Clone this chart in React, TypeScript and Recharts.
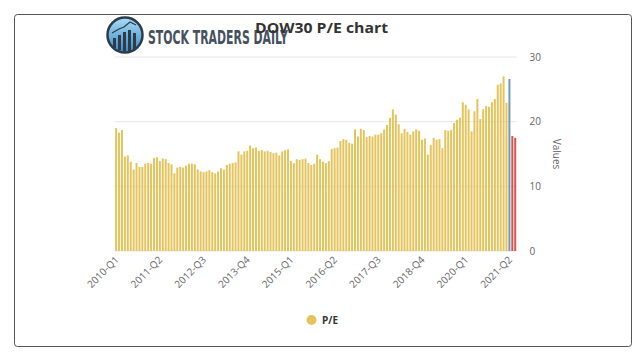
import { BarChart, Bar, Cell, XAxis, YAxis, CartesianGrid } from "recharts";

// monthly DOW30 P/E readings, Jan..Dec per year
const pe2010 = [19.0, 18.3, 18.7, 14.6, 14.8, 13.8, 12.6, 13.6, 13.0, 13.0, 13.5, 13.6];
const pe2011 = [13.5, 14.4, 14.5, 13.9, 14.3, 14.2, 13.6, 13.4, 12.0, 12.9, 13.0, 12.9];
const pe2012 = [13.2, 13.5, 13.5, 13.4, 12.6, 12.3, 12.2, 12.3, 12.5, 12.2, 12.0, 12.3];
const pe2013 = [12.8, 12.6, 13.3, 13.5, 13.6, 13.7, 15.4, 14.9, 15.4, 15.5, 16.3, 15.9];
const pe2014 = [16.0, 15.5, 15.6, 15.4, 15.5, 15.3, 15.1, 15.2, 14.8, 15.4, 15.6, 15.7];
const pe2015 = [13.9, 13.6, 14.2, 14.1, 14.2, 14.3, 13.6, 13.3, 13.5, 14.9, 14.2, 13.8];
const pe2016 = [13.6, 13.9, 15.8, 15.9, 16.0, 17.0, 17.3, 17.2, 16.7, 16.6, 18.8, 17.7];
const pe2017 = [18.9, 18.7, 17.6, 17.8, 17.7, 18.0, 18.0, 18.2, 18.8, 19.5, 20.6, 21.9];
const pe2018 = [21.1, 19.6, 18.2, 18.9, 18.4, 18.0, 18.5, 18.8, 18.6, 17.2, 17.4, 14.9];
const pe2019 = [16.4, 17.5, 17.2, 17.3, 15.9, 18.7, 18.6, 18.7, 19.8, 20.3, 20.6, 23.0];
const pe2020 = [22.6, 21.9, 18.5, 21.6, 23.5, 20.4, 21.9, 22.4, 22.3, 23.0, 23.5, 25.7];
const pe2021 = [25.9, 27.0, 22.9, 26.6, 17.8, 17.5];

const years = [2010, 2011, 2012, 2013, 2014, 2015, 2016, 2017, 2018, 2019, 2020, 2021];
const yearValues = [pe2010, pe2011, pe2012, pe2013, pe2014, pe2015, pe2016, pe2017, pe2018, pe2019, pe2020, pe2021];

const blueMonths = ["2021-04"];
const redMonths = ["2021-05", "2021-06"];
const yTicks = [0, 10, 20, 30];

const GOLD = "#e4c45c";
const BLUE = "#7399b8";
const RED = "#d9534f";

const data: { month: string; pe: number }[] = [];
years.forEach((y, k) => {
  yearValues[k].forEach((v, m) => {
    data.push({ month: `${y}-${String(m + 1).padStart(2, "0")}`, pe: v });
  });
});

const toQuarter = (month: string) => {
  const [y, m] = month.split("-");
  return `${y}-Q${Math.floor((Number(m) - 1) / 3) + 1}`;
};

const colorFor = (month: string) => {
  if (blueMonths.includes(month)) return BLUE;
  if (redMonths.includes(month)) return RED;
  return GOLD;
};

const FONT = "'Open Sans', sans-serif";

// rotated quarter labels, text ends at the tick
const QuarterTick = (props: any) => {
  const { x, y, payload } = props;
  const ax = x + 1;
  const ay = y - 1;
  return (
    <text
      x={ax}
      y={ay}
      dy="0.35em"
      textAnchor="end"
      transform={`rotate(-45 ${ax} ${ay})`}
      fontSize={10}
      fill="#666"
      fontFamily={FONT}
    >
      {toQuarter(payload.value)}
    </text>
  );
};

const Logo = () => (
  <g>
    <defs>
      <linearGradient id="logoFill" x1="0" y1="0" x2="0" y2="1">
        <stop offset="0%" stopColor="#a9dcf5" />
        <stop offset="100%" stopColor="#3b8ac3" />
      </linearGradient>
    </defs>
    <circle cx={125} cy={35} r={17.5} fill="url(#logoFill)" stroke="#2c3c4b" strokeWidth={2.5} />
    <rect x={113} y={38} width={3} height={10} fill="#2c3c4b" />
    <rect x={118} y={35} width={3} height={15} fill="#2c3c4b" />
    <rect x={123} y={32} width={3} height={19} fill="#2c3c4b" />
    <rect x={128} y={30} width={3} height={21} fill="#2c3c4b" />
    <rect x={133} y={33} width={3} height={16} fill="#2c3c4b" />
    <polyline points="112,33 119,29 124,27 130,22 136,25" fill="none" stroke="#2c3c4b" strokeWidth={1.3} />
    <text
      x={148}
      y={44}
      fontFamily="'Liberation Sans Narrow', 'DejaVu Sans Condensed', sans-serif"
      fontSize={20}
      fontWeight={700}
      fill="#45515e"
      textLength={140}
      lengthAdjust="spacingAndGlyphs"
    >
      STOCK TRADERS DAILY
    </text>
  </g>
);

export default function App() {
  return (
    <div style={{ position: "absolute", left: 0, top: 0, width: 643, height: 356, background: "#fff" }}>
      <BarChart
        width={643}
        height={356}
        data={data}
        margin={{ top: 57, right: 96.5, bottom: 55, left: 114.5 }}
        barCategoryGap="22%"
      >
        <CartesianGrid vertical={false} stroke="#e6e6e6" />
        <XAxis
          dataKey="month"
          interval={14}
          axisLine={false}
          tickLine={false}
          height={50}
          tick={<QuarterTick />}
        />
        <YAxis
          orientation="right"
          domain={[0, 30]}
          ticks={yTicks}
          axisLine={false}
          tickLine={false}
          width={30}
          tickMargin={7}
          tick={{ fontSize: 10, fill: "#666", fontFamily: FONT }}
        />
        <Bar dataKey="pe" name="P/E" isAnimationActive={false}>
          {data.map((d) => (
            <Cell key={d.month} fill={colorFor(d.month)} />
          ))}
        </Bar>
      </BarChart>
      <svg
        width={643}
        height={356}
        style={{ position: "absolute", left: 0, top: 0, pointerEvents: "none" }}
      >
        <rect x={14.5} y={14.5} width={617} height={332} rx={3} fill="none" stroke="#555" />
        <Logo />
        <text
          x={255}
          y={33}
          fontFamily={FONT}
          fontWeight={700}
          fontSize={15}
          fill="#333"
          textLength={133}
          lengthAdjust="spacingAndGlyphs"
        >
          DOW30 P/E chart
        </text>
        <text
          x={553}
          y={154}
          transform="rotate(90 553 154)"
          textAnchor="middle"
          fontFamily={FONT}
          fontSize={10}
          fill="#666"
        >
          Values
        </text>
        <circle cx={311.5} cy={320} r={5} fill={GOLD} />
        <text x={322} y={323.5} fontFamily={FONT} fontWeight={700} fontSize={10} fill="#333">
          P/E
        </text>
      </svg>
    </div>
  );
}
